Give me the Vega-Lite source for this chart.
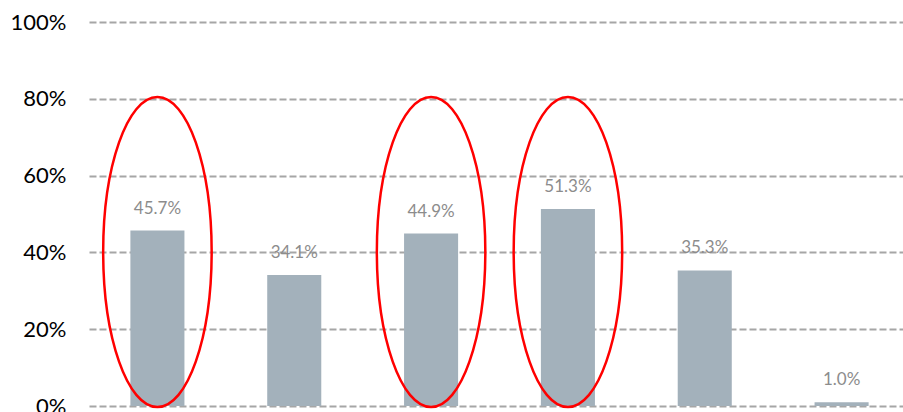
{
  "$schema": "https://vega.github.io/schema/vega-lite/v6.json",
  "width": 821,
  "height": 384,
  "autosize": "none",
  "padding": {"left": 89, "top": 22, "right": 0, "bottom": 6},
  "background": "white",
  "config": {
    "view": {"stroke": null},
    "font": "Lato"
  },
  "data": {
    "values": [
      {"category": "A", "value": 0.457},
      {"category": "B", "value": 0.341},
      {"category": "C", "value": 0.449},
      {"category": "D", "value": 0.513},
      {"category": "E", "value": 0.353},
      {"category": "F", "value": 0.010}
    ]
  },
  "encoding": {
    "x": {
      "field": "category",
      "type": "nominal",
      "sort": null,
      "axis": null,
      "scale": {"paddingInner": 0.605, "paddingOuter": 0.3025}
    }
  },
  "layer": [
    {
      "mark": {"type": "bar", "color": "#a3b1bb"},
      "encoding": {
        "y": {
          "field": "value",
          "type": "quantitative",
          "scale": {"domain": [0, 1], "nice": false},
          "axis": {
            "title": null,
            "values": [0, 0.2, 0.4, 0.6, 0.8, 1],
            "format": ".0%",
            "domain": false,
            "ticks": false,
            "labelPadding": 23,
            "labelFontSize": 22,
            "labelColor": "#000000",
            "labelFont": "Lato",
            "grid": true,
            "gridColor": "#a6a6a6",
            "gridWidth": 2,
            "gridDash": [7, 3]
          }
        }
      }
    },
    {
      "mark": {"type": "text", "baseline": "alphabetic", "dy": -17, "fontSize": 17, "color": "#8c8c8c", "font": "Lato"},
      "encoding": {
        "y": {"field": "value", "type": "quantitative"},
        "text": {"field": "value", "type": "quantitative", "format": ".1%"}
      }
    },
    {
      "transform": [{"filter": {"field": "category", "oneOf": ["A", "C", "D"]}}],
      "mark": {
        "type": "point",
        "filled": false,
        "stroke": "#ff0000",
        "strokeWidth": 2.5,
        "opacity": 1,
        "size": 96100,
        "shape": "M-0.35,0A0.35,1,0,1,1,0.35,0A0.35,1,0,1,1,-0.35,0Z"
      },
      "encoding": {
        "y": {"datum": 0.401, "type": "quantitative"}
      }
    }
  ]
}
